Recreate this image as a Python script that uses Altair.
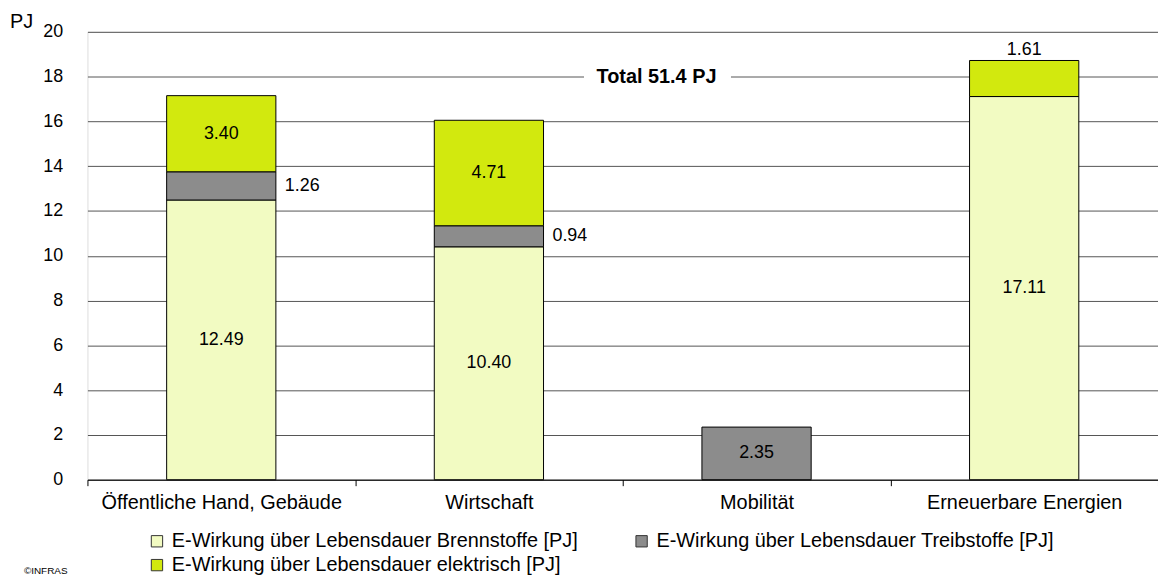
import altair as alt
import pandas as pd

categories = ["Öffentliche Hand, Gebäude", "Wirtschaft", "Mobilität", "Erneuerbare Energien"]
series = [
    "E-Wirkung über Lebensdauer Brennstoffe [PJ]",
    "E-Wirkung über Lebensdauer Treibstoffe [PJ]",
    "E-Wirkung über Lebensdauer elektrisch [PJ]",
]
brennstoffe = [12.49, 10.40, 0.0, 17.11]
treibstoffe = [1.26, 0.94, 2.35, 0.0]
elektrisch = [3.40, 4.71, 0.0, 1.61]
label_brenn = ["inside", "inside", "none", "inside"]
label_treib = ["right", "right", "inside", "none"]
label_elek = ["inside", "inside", "none", "above"]
colors = ["#F2FBC2", "#8C8C8C", "#D2E90E"]
total_text = "Total 51.4 PJ"
total_y = 18

rows = []
for i, c in enumerate(categories):
    start = 0.0
    for k, (vals, labs) in enumerate([(brennstoffe, label_brenn), (treibstoffe, label_treib), (elektrisch, label_elek)]):
        v = vals[i]
        if v > 0:
            rows.append({"cat": c, "series": series[k], "order": k, "start": start,
                         "end": start + v, "mid": start + v / 2, "value": v,
                         "label": f"{v:.2f}", "pos": labs[i]})
        start += v
df = pd.DataFrame(rows)

# legend fills column-major: order so that rows read Brennstoffe, Treibstoffe / elektrisch
legend_order = [0, 2, 1]
legend_domain = [series[i] for i in legend_order]
legend_range = [colors[i] for i in legend_order]

FONT = "Liberation Sans"
W, H = 1078, 451
xenc = alt.X("cat:N", sort=categories, title=None,
             scale=alt.Scale(paddingInner=0, paddingOuter=0),
             axis=alt.Axis(labelAngle=0, tickBand="extent", domainColor="black", tickColor="black",
                           tickSize=6, labelFontSize=20, labelPadding=7, labelColor="black",
                           labelFont=FONT, grid=False, labelLimit=400))
yscale = alt.Scale(domain=[0, 20], nice=False)

base = alt.Chart(df)

bars = base.mark_bar(size=110, stroke="black", strokeWidth=1).encode(
    x=xenc,
    y=alt.Y("start:Q", scale=yscale, title=None,
            axis=alt.Axis(values=list(range(0, 21, 2)), grid=True, gridColor="#555555", gridWidth=1,
                          domain=False, ticks=False, labelFontSize=18, labelPadding=25,
                          labelColor="black", labelFont=FONT)),
    y2="end:Q",
    fill=alt.Fill("series:N",
                  scale=alt.Scale(domain=legend_domain, range=legend_range),
                  legend=alt.Legend(title=None, orient="none", legendX=60, legendY=503, columns=2,
                                    symbolType="square", symbolSize=130, symbolStrokeColor="#333333",
                                    symbolStrokeWidth=1, labelFontSize=20, labelFont=FONT,
                                    labelColor="black", labelLimit=600, columnPadding=54, rowPadding=4,
                                    symbolOffset=0, labelOffset=5)),
    order=alt.Order("order:Q"),
)

inside = base.transform_filter(alt.datum.pos == "inside").mark_text(
    fontSize=18, font=FONT, color="black", align="center", baseline="middle"
).encode(x=alt.X("cat:N", sort=categories), y=alt.Y("mid:Q", scale=yscale), text="label:N")

right = base.transform_filter(alt.datum.pos == "right").mark_text(
    fontSize=18, font=FONT, color="black", align="left", baseline="middle", dx=64
).encode(x=alt.X("cat:N", sort=categories), y=alt.Y("mid:Q", scale=yscale), text="label:N")

above = base.transform_filter(alt.datum.pos == "above").mark_text(
    fontSize=18, font=FONT, color="black", align="center", baseline="bottom", dy=-2
).encode(x=alt.X("cat:N", sort=categories), y=alt.Y("end:Q", scale=yscale), text="label:N")

tot_df = pd.DataFrame({"y": [total_y], "text": [total_text]})
tot_bg = alt.Chart(tot_df).mark_rect(color="white").encode(
    x=alt.value(500), x2=alt.value(648), y=alt.value(H * (1 - total_y / 20) - 8),
    y2=alt.value(H * (1 - total_y / 20) + 8))
tot_txt = alt.Chart(tot_df).mark_text(fontSize=20, fontWeight="bold", font=FONT,
                                      color="black", align="center", baseline="middle").encode(
    x=alt.value(573), y=alt.Y("y:Q", scale=yscale), text="text:N")

pj = alt.Chart(tot_df).mark_text(fontSize=20, font=FONT, color="black",
                                 align="left", baseline="middle").encode(
    x=alt.value(-78), y=alt.value(-10), text=alt.value("PJ"))
copy = alt.Chart(tot_df).mark_text(fontSize=10, font=FONT, color="black",
                                   align="left", baseline="bottom").encode(
    x=alt.value(-64), y=alt.value(548), text=alt.value("©INFRAS"))

chart = alt.layer(bars, tot_bg, tot_txt, inside, right, above, pj, copy).properties(
    width=W, height=H, autosize=alt.AutoSizeParams(type="none"),
    padding={"left": 80, "top": 22, "right": 0, "bottom": 98},
).configure_view(stroke=None).configure(background="white")

chart.save("out.html", embed_options={"renderer": "svg", "actions": False})
